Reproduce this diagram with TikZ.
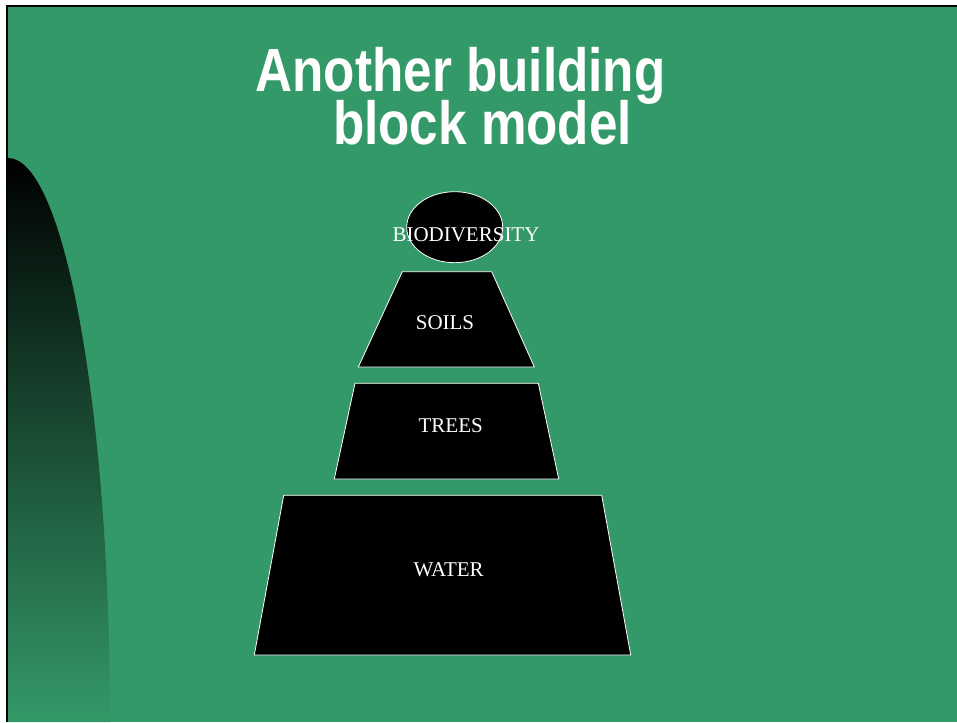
\documentclass[tikz,border=0pt]{standalone}
\usepackage{fontspec}
\setmainfont{Liberation Serif}
\newfontfamily\titlefont[FakeStretch=0.84]{Liberation Sans}
\usetikzlibrary{shapes.geometric}
\definecolor{bg}{RGB}{52,153,104}
\tikzset{
  block/.style={fill=black, draw=white, line width=0.8pt, line join=miter},
  lbl/.style={text=white, font=\fontsize{21}{24}\selectfont, anchor=base, inner sep=0pt},
  ttl/.style={text=white, font=\titlefont\bfseries\fontsize{61}{64}\selectfont, anchor=base, inner sep=0pt}
}
\begin{document}
\begin{tikzpicture}[x=1pt,y=-1pt]
\useasboundingbox (0,0) rectangle (957,722);
\fill[white] (0,0) rectangle (957,722);
\fill[black] (5.5,5) rectangle (957,722);
\fill[bg] (8,7.5) rectangle (957,722);
% left shaded arc
\shade[top color=black, middle color=bg!75!black, bottom color=bg]
  (8,722) -- (8,158) arc[start angle=90, end angle=0, x radius=102, y radius=-564] -- cycle;
% title
\node[ttl] (t1) at (460.5,92) {Another building};
\node[ttl] (t2) at (482.5,145) {block model};
% blocks
\node[ellipse, block, minimum width=96pt, minimum height=71pt, inner sep=0pt] (bio) at (454.7,227.2) {};
\node[lbl] (biot) at (466,241) {BIODIVERSITY};
\draw[block] (402.3,271.7) -- (491.7,271.7) -- (534.3,367) -- (358.3,367) -- cycle;
\node[lbl] (soils) at (445,329) {SOILS};
\draw[block] (355,383.3) -- (538.3,383.3) -- (558.7,479) -- (334.3,479) -- cycle;
\node[lbl] (trees) at (450.7,432.3) {TREES};
\draw[block] (283.7,495.3) -- (601.7,495.3) -- (630.7,655) -- (254.3,655) -- cycle;
\node[lbl] (water) at (448.7,576.7) {WATER};
\end{tikzpicture}
\end{document}
